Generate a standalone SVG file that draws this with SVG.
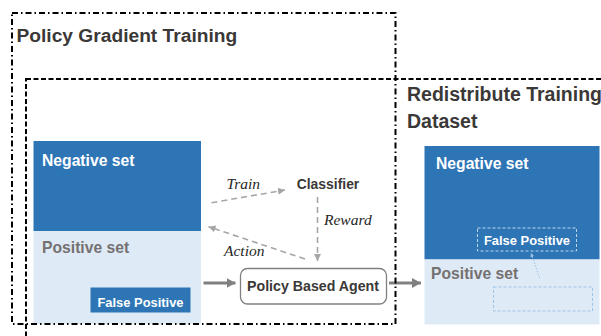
<svg xmlns="http://www.w3.org/2000/svg" width="601" height="336" viewBox="0 0 601 336">
<style>
.b{font-family:"Liberation Sans",Arial,sans-serif;font-weight:bold}
.wt{fill:#ffffff}
.gt{fill:#767171}
.dk{fill:#3b3838}
.lbl{font-family:"Liberation Serif","Times New Roman",serif;font-style:italic;font-size:15.5px;fill:#262626}
.neg{fill:#2e75b6}
.pos{fill:#deebf7}
.dash{fill:none;stroke:#a6a6a6;stroke-width:1.6;stroke-dasharray:6,4}
.solid{fill:none;stroke:#808080;stroke-width:3}
</style>
<defs>
<marker id="ah" markerUnits="userSpaceOnUse" markerWidth="12" markerHeight="12" refX="9" refY="6" orient="auto">
<path d="M0,1 L9,6 L0,11 Z" fill="#808080"/>
</marker>
<marker id="ad" markerUnits="userSpaceOnUse" markerWidth="10" markerHeight="10" refX="7" refY="5" orient="auto">
<path d="M0,1.5 L7,5 L0,8.5 Z" fill="#a6a6a6"/>
</marker>
<marker id="ab" markerUnits="userSpaceOnUse" markerWidth="6" markerHeight="6" refX="4" refY="3" orient="auto">
<path d="M0,1 L4,3 L0,5 Z" fill="#9dc3e6"/>
</marker>
</defs>
<rect width="601" height="336" fill="#ffffff"/>

<g id="left-set">
<rect class="neg" x="33.5" y="141" width="167.5" height="90"/>
<rect class="pos" x="33.5" y="231" width="167.5" height="93"/>
<text class="b wt" x="42" y="166" font-size="15.7">Negative set</text>
<text class="b gt" x="42" y="252.5" font-size="15.7">Positive set</text>
<rect class="neg" x="90.5" y="287.5" width="100" height="25"/>
<text class="b wt" x="140.5" y="306.5" font-size="12.9" text-anchor="middle">False Positive</text>
</g>

<g id="right-set">
<rect class="neg" x="424.5" y="146" width="175" height="113.5"/>
<rect class="pos" x="424.5" y="259.5" width="175" height="65"/>
<text class="b wt" x="436" y="168.5" font-size="15.7">Negative set</text>
<text class="b gt" x="431" y="278.5" font-size="15.7">Positive set</text>
<rect x="477.5" y="228" width="99" height="23" fill="none" stroke="#bdd7ee" stroke-width="1" stroke-dasharray="3,2"/>
<text class="b wt" x="527" y="244.5" font-size="12.9" text-anchor="middle">False Positive</text>
<rect x="493.5" y="287" width="99" height="24" fill="none" stroke="#9dc3e6" stroke-width="1" stroke-dasharray="3,2"/>
</g>

<g id="classifier">
<text class="b dk" x="328" y="188.5" font-size="13.9" text-anchor="middle" fill="#404040">Classifier</text>
</g>

<g id="agent">
<rect x="240.5" y="268.5" width="146" height="35.5" rx="7" ry="7" fill="#ffffff" stroke="#808080" stroke-width="1.3"/>
<text class="b dk" x="313" y="291" font-size="14.2" text-anchor="middle">Policy Based Agent</text>
</g>

<g id="connectors">
<line class="dash" x1="211.5" y1="202.7" x2="285" y2="190" marker-end="url(#ad)"/>
<line class="dash" x1="317.5" y1="197" x2="317.5" y2="261" marker-end="url(#ad)"/>
<line class="dash" x1="305" y1="259" x2="208.5" y2="226.7" marker-end="url(#ad)"/>
<line class="solid" x1="203.5" y1="283" x2="235.5" y2="283" marker-end="url(#ah)"/>
<line class="solid" x1="389" y1="283" x2="421" y2="283" marker-end="url(#ah)"/>
<line x1="539.5" y1="278" x2="531" y2="253" stroke="#9dc3e6" stroke-width="1" stroke-dasharray="1.5,1.5" marker-end="url(#ab)"/>
<text class="lbl" x="226.5" y="189">Train</text>
<text class="lbl" x="324" y="224.5">Reward</text>
<text class="lbl" x="224" y="256">Action</text>
</g>

<g id="frames">
<rect x="26" y="79" width="620" height="300" fill="none" stroke="#000000" stroke-width="2" stroke-dasharray="5,2.5"/>
<rect x="12" y="13" width="383.5" height="311" fill="none" stroke="#000000" stroke-width="2" stroke-dasharray="6,3,1.5,3"/>
<text class="b dk" x="16.5" y="42" font-size="19.2">Policy Gradient Training</text>
<text class="b dk" x="407" y="100.5" font-size="19.5">Redistribute Training</text>
<text class="b dk" x="407" y="128" font-size="19.5">Dataset</text>
</g>
</svg>
